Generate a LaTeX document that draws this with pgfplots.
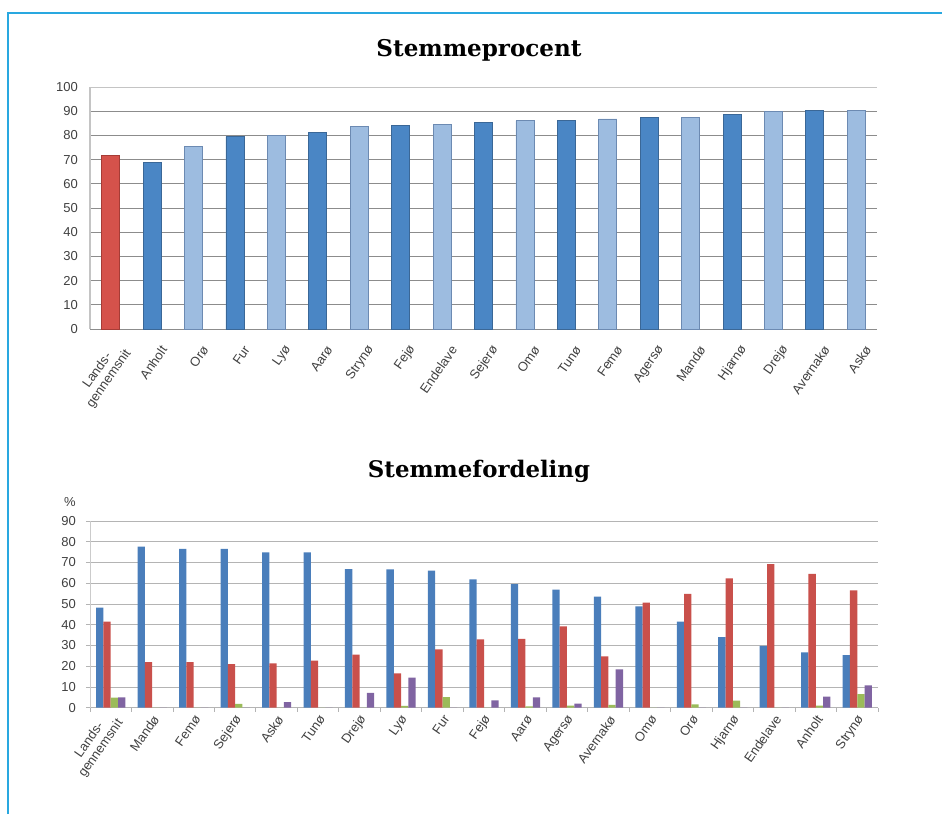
\documentclass[border=0pt]{standalone}
\usepackage{fontspec}
\setmainfont{Liberation Sans}
\newfontfamily\titlefont{DejaVu Serif}
\usepackage{pgfplots}
\pgfplotsset{compat=1.18}

\definecolor{frameblue}{HTML}{29A8E0}
\definecolor{labelgray}{HTML}{404040}
\definecolor{gridA}{HTML}{8C8C8C}
\definecolor{gridB}{HTML}{B4B4B4}
\definecolor{axisgray}{HTML}{C4C4C4}
\definecolor{redbar}{HTML}{D5524B}
\definecolor{rededge}{HTML}{A63C36}
\definecolor{darkbar}{HTML}{4A86C5}
\definecolor{darkedge}{HTML}{3A6797}
\definecolor{lightbar}{HTML}{9DBCE0}
\definecolor{lightedge}{HTML}{6C8AB2}
\definecolor{sblue}{HTML}{4A7EBB}
\definecolor{sred}{HTML}{C9504B}
\definecolor{sgreen}{HTML}{9BBB59}
\definecolor{spurple}{HTML}{8064A2}

\begin{document}
\begin{tikzpicture}
\useasboundingbox (0pt,0pt) rectangle (942pt,-814pt);
\draw[frameblue, line width=1.6pt] (8pt,-814pt) -- (8pt,-12.7pt) -- (942pt,-12.7pt);

\node[anchor=base] at (479pt,-56pt) {\resizebox{205pt}{!}{\titlefont\bfseries Stemmeprocent}};
\node[anchor=base] at (479pt,-477pt) {\resizebox{222pt}{!}{\titlefont\bfseries Stemmefordeling}};

% Stemmeprocent
\begin{axis}[
    at={(90pt,-329pt)}, anchor=south west,
    scale only axis, width=787pt, height=242pt,
    xmin=-0.5, xmax=18.5, ymin=0, ymax=100,
    ytick={0,10,...,100},
    xtick={0,...,18},
    xticklabels={{Lands-\\gennemsnit},Anholt,Orø,Fur,Lyø,Aarø,Strynø,Fejø,Endelave,Sejerø,Omø,Tunø,Femø,Agersø,Mandø,Hjarnø,Drejø,Avernakø,Askø},
    ybar, bar width=18pt,
    axis x line*=bottom, axis y line*=left,
    x axis line style={-, draw=gridA, line width=1pt},
    y axis line style={-, draw=axisgray, line width=1.2pt},
    ymajorgrids, grid style={draw=gridA, line width=0.9pt},
    major tick length=0pt,
    tick label style={font=\fontsize{13}{14}\selectfont, text=labelgray},
    /pgf/number format/assume math mode=true,
    yticklabel style={anchor=east, inner sep=0pt, xshift=-12pt},
    xticklabel style={align=center, inner sep=0pt, xshift=12pt, yshift=-18pt, rotate=55, anchor=east},
]
\addplot[fill=redbar, draw=rededge, line width=0.8pt, bar shift=0pt] coordinates {(0,71.8)};
\addplot[fill=darkbar, draw=darkedge, line width=0.8pt, bar shift=0pt] coordinates {
    (1,68.8) (3,79.5) (5,81.3) (7,84.0) (9,85.2) (11,86.2) (13,87.4) (15,88.5) (17,90.2)};
\addplot[fill=lightbar, draw=lightedge, line width=0.8pt, bar shift=0pt] coordinates {
    (2,75.4) (4,79.8) (6,83.7) (8,84.6) (10,86.0) (12,86.8) (14,87.6) (16,89.8) (18,90.4)};
\draw[axisgray, line width=1.6pt] (axis cs:-0.5,100) -- (axis cs:18.5,100);
\end{axis}

\node[font=\fontsize{13}{14}\selectfont, text=labelgray] at (70pt,-501.7pt) {\%};

% Stemmefordeling
\begin{axis}[
    at={(90pt,-707.7pt)}, anchor=south west,
    scale only axis, width=788pt, height=186.7pt,
    xmin=-0.5, xmax=18.5, ymin=0, ymax=90,
    ytick={0,10,...,90},
    xtick={0,...,18},
    minor xtick={-0.5,0.5,...,18.5},
    xticklabels={{Lands-\\gennemsnit},Mandø,Femø,Sejerø,Askø,Tunø,Drejø,Lyø,Fur,Fejø,Aarø,Agersø,Avernakø,Omø,Orø,Hjarnø,Endelave,Anholt,Strynø},
    ybar=0pt, bar width=7.3pt,
    axis x line*=bottom, axis y line*=left,
    x axis line style={-, draw=gridB, line width=1pt},
    y axis line style={-, draw=gridB!70, line width=1pt},
    ymajorgrids, grid style={draw=gridB, line width=0.9pt},
    tick align=outside, major tick length=4pt, minor tick length=4pt,
    every major x tick/.append style={draw=none},
    every tick/.append style={draw=gridB, line width=0.8pt},
    tick label style={font=\fontsize{13}{14}\selectfont, text=labelgray},
    /pgf/number format/assume math mode=true,
    yticklabel style={anchor=east, inner sep=0pt, xshift=-10pt},
    xticklabel style={align=center, inner sep=0pt, xshift=4pt, yshift=-5pt, rotate=55, anchor=east},
]
\addplot[fill=sblue, draw=none] coordinates {
    (0,48.2) (1,77.6) (2,76.6) (3,76.6) (4,74.9) (5,74.9) (6,66.8) (7,66.7) (8,66.1) (9,61.9)
    (10,59.6) (11,56.9) (12,53.5) (13,48.9) (14,41.5) (15,34.0) (16,29.8) (17,26.7) (18,25.4)};
\addplot[fill=sred, draw=none] coordinates {
    (0,41.5) (1,22.0) (2,22.0) (3,21.0) (4,21.4) (5,22.7) (6,25.6) (7,16.6) (8,28.1) (9,33.0)
    (10,33.2) (11,39.2) (12,24.7) (13,50.7) (14,54.9) (15,62.3) (16,69.2) (17,64.5) (18,56.6)};
\addplot[fill=sgreen, draw=none] coordinates {
    (0,4.9) (1,0) (2,0) (3,1.8) (4,0) (5,0) (6,0) (7,0.9) (8,5.1) (9,0)
    (10,0.6) (11,1.0) (12,1.4) (13,0) (14,1.6) (15,3.4) (16,0) (17,1.0) (18,6.6)};
\addplot[fill=spurple, draw=none] coordinates {
    (0,5.0) (1,0) (2,0) (3,0) (4,2.7) (5,0) (6,7.1) (7,14.5) (8,0) (9,3.5)
    (10,5.0) (11,2.0) (12,18.5) (13,0) (14,0) (15,0) (16,0) (17,5.4) (18,10.8)};
\end{axis}
\end{tikzpicture}
\end{document}
